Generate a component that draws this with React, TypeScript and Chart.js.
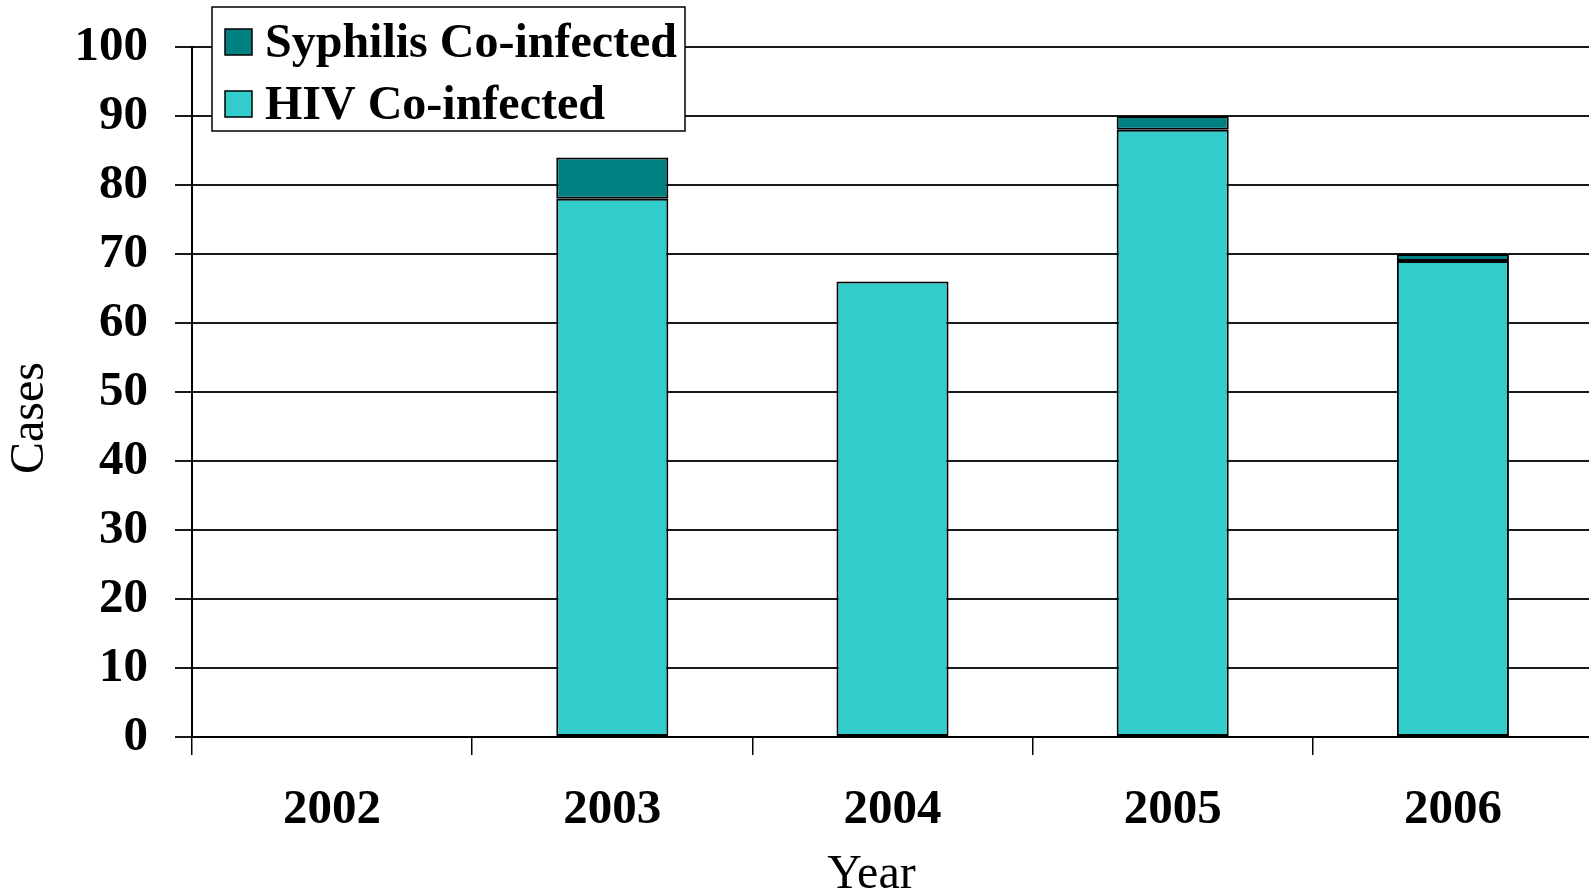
import React, { useEffect, useRef } from "react";
import { Chart, registerables } from "chart.js";

Chart.register(...registerables);

const years = ["2002", "2003", "2004", "2005", "2006"];
const hivCases = [0, 78, 66, 88, 69];
const syphilisCases = [0, 6, 0, 2, 1];
const legendLabels = ["Syphilis Co-infected", "HIV Co-infected"];
const xTitle = "Year";
const yTitle = "Cases";

const HIV_COLOR = "#33CCCC";
const SYPH_COLOR = "#008080";
const FONT = '"Liberation Serif", "Times New Roman", serif';

const decorPlugin = {
  id: "decor",
  afterDraw(chart: any) {
    const { ctx, chartArea } = chart;
    ctx.save();
    ctx.fillStyle = "#000";
    ctx.font = `48px ${FONT}`;
    ctx.textAlign = "center";
    ctx.textBaseline = "middle";
    // x title
    const xc = chartArea.left + (chartArea.right - chartArea.left) * 0.485;
    ctx.fillText(xTitle, xc, chartArea.bottom + 138);
    // y title
    ctx.save();
    ctx.translate(30, (chartArea.top + chartArea.bottom) / 2 + 26);
    ctx.rotate(-Math.PI / 2);
    ctx.fillText(yTitle, 0, 0);
    ctx.restore();

    // legend box
    const bx = chartArea.left + 20;
    const by = 7;
    const bw = 473;
    const bh = 124;
    ctx.fillStyle = "#fff";
    ctx.fillRect(bx, by, bw, bh);
    ctx.strokeStyle = "#000";
    ctx.lineWidth = 1.5;
    ctx.strokeRect(bx, by, bw, bh);
    const colors = [SYPH_COLOR, HIV_COLOR];
    const rowsY = [42, 104];
    ctx.font = `bold 48px ${FONT}`;
    ctx.textAlign = "left";
    for (let i = 0; i < legendLabels.length; i++) {
      const cy = rowsY[i];
      ctx.fillStyle = colors[i];
      ctx.fillRect(bx + 13, cy - 13, 27, 26);
      ctx.strokeStyle = "#000";
      ctx.lineWidth = 1.5;
      ctx.strokeRect(bx + 13, cy - 13, 27, 26);
      ctx.fillStyle = "#000";
      ctx.fillText(legendLabels[i], bx + 53, cy + 3);
    }
    ctx.restore();
  },
};

export default function App() {
  const canvasRef = useRef<HTMLCanvasElement | null>(null);

  useEffect(() => {
    if (!canvasRef.current) return;
    const chart = new Chart(canvasRef.current, {
      type: "bar",
      data: {
        labels: years,
        datasets: [
          {
            label: "HIV Co-infected",
            data: hivCases,
            backgroundColor: HIV_COLOR,
            borderColor: "#000",
            borderWidth: 2,
            borderSkipped: false,
            barPercentage: 0.4,
            categoryPercentage: 1,
          },
          {
            label: "Syphilis Co-infected",
            data: syphilisCases,
            backgroundColor: SYPH_COLOR,
            borderColor: "#000",
            borderWidth: 2,
            borderSkipped: false,
            barPercentage: 0.4,
            categoryPercentage: 1,
          },
        ],
      },
      options: {
        responsive: false,
        animation: false,
        layout: { padding: { top: 47, right: 1, left: 0, bottom: 0 } },
        plugins: {
          legend: { display: false },
          tooltip: { enabled: false },
          title: { display: false },
        },
        scales: {
          x: {
            stacked: true,
            offset: true,
            grid: {
              offset: true,
              drawOnChartArea: false,
              drawTicks: true,
              tickLength: 18,
              color: "#000",
              lineWidth: 1.5,
            },
            border: { display: true, color: "#000", width: 2 },
            ticks: {
              color: "#000",
              font: { family: FONT, size: 49, weight: "bold" },
              padding: 26,
              maxRotation: 0,
              autoSkip: false,
            },
            afterFit(scale: any) {
              scale.height = 154;
              scale.paddingLeft = 0;
              scale.paddingRight = 0;
            },
          },
          y: {
            stacked: true,
            min: 0,
            max: 100,
            ticks: {
              stepSize: 10,
              color: "#000",
              font: { family: FONT, size: 49, weight: "bold" },
              padding: 27,
            },
            grid: {
              color: "#1a1a1a",
              lineWidth: 2,
              tickLength: 17,
              drawTicks: true,
            },
            border: { display: true, color: "#000", width: 2 },
            afterFit(scale: any) {
              scale.width = 192;
              scale.paddingTop = 0;
              scale.paddingBottom = 0;
            },
          },
        },
      },
      plugins: [decorPlugin],
    });
    return () => chart.destroy();
  }, []);

  return (
    <div
      style={{
        position: "fixed",
        left: 0,
        top: 0,
        width: 1589,
        height: 891,
        overflow: "hidden",
        background: "#fff",
      }}
    >
      <canvas
        ref={canvasRef}
        width={1594}
        height={891}
        style={{ display: "block", width: 1594, height: 891 }}
      />
    </div>
  );
}
